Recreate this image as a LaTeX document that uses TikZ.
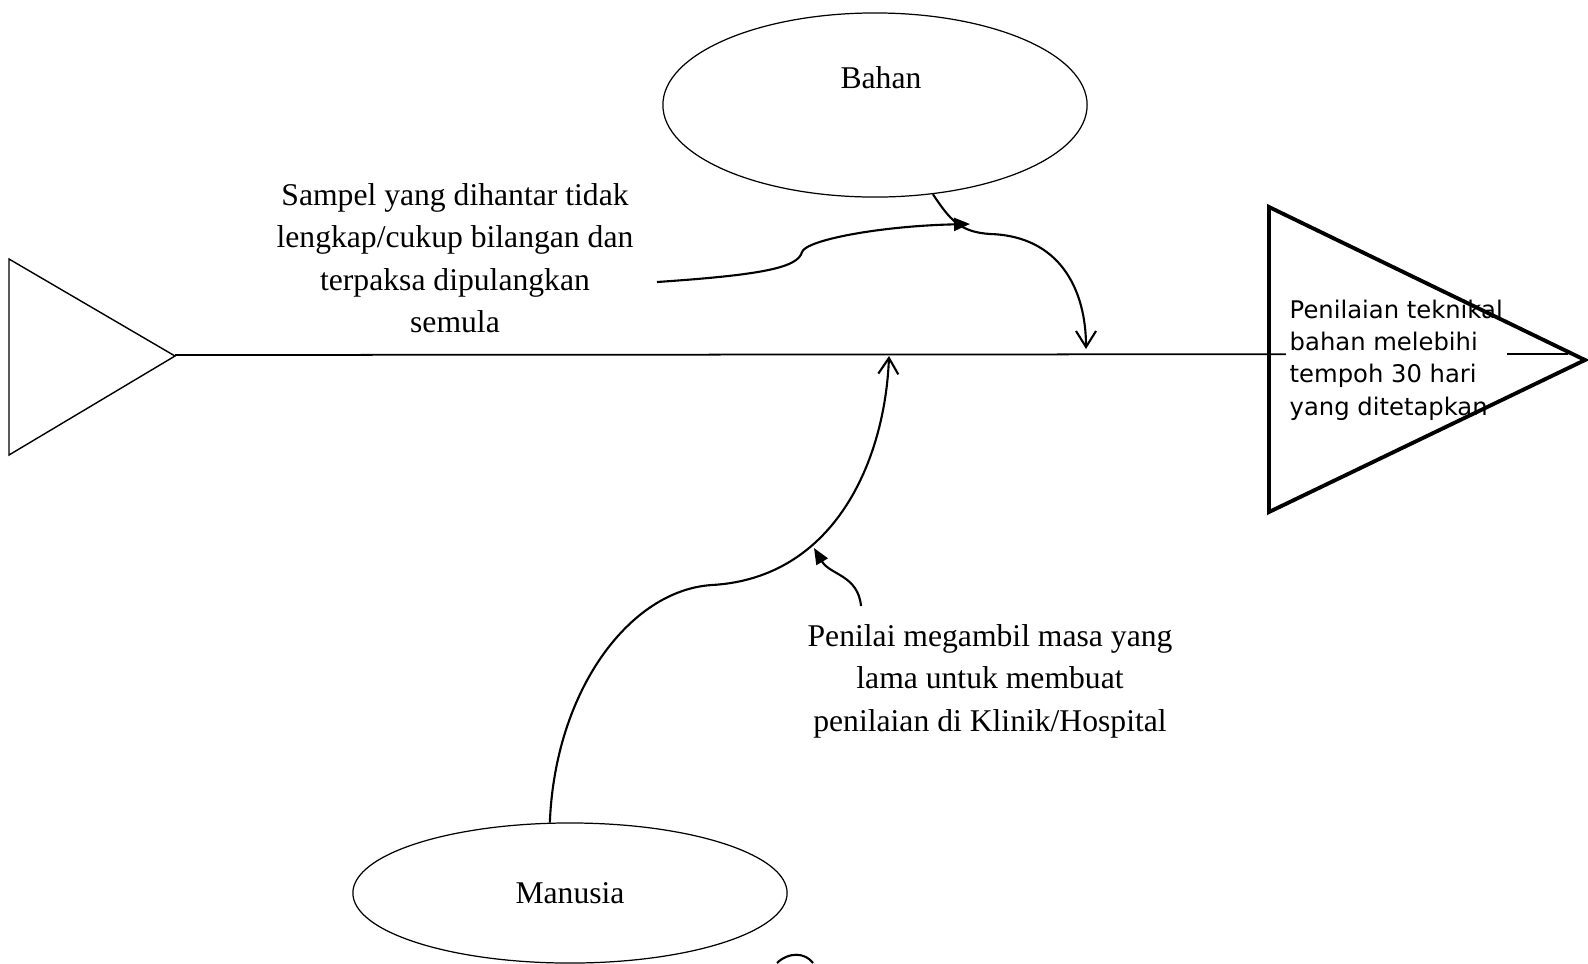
\documentclass[tikz,border=0pt]{standalone}
\usepackage{fontspec}
\setmainfont{Liberation Serif}
\newfontfamily\boxfont{DejaVu Sans}
\usetikzlibrary{shapes.geometric,arrows.meta}

\begin{document}
\begin{tikzpicture}[x=0.01cm, y=-0.01cm,
        oval/.style={draw, ellipse, line width=0.35pt, inner sep=0pt},
        cause/.style={font=\fontsize{9pt}{12.1pt}\selectfont, align=center},
        twist/.style={line width=0.6pt},
        openhead/.style={-{Straight Barb[length=0.16cm, width=0.2cm]}},
        filledhead/.style={-{Triangle[length=0.16cm, width=0.13cm]}}]
        \useasboundingbox (0,0) rectangle (1588,963);
        % tail and spine
        \draw[line width=0.4pt] (9,259)--(9,455)--(175,356)--cycle;
        \coordinate (tail) at (175,355);
        \coordinate (tip) at (1568,354);
        \draw[line width=0.5pt] (tail)--(tip);
        % effect at the head
        \node[fill=white, align=left, inner sep=0.04cm, anchor=west,
            font=\boxfont\fontsize{6.9pt}{9.2pt}\selectfont] (effect) at (1285,360)
            {Penilaian teknikal\\bahan melebihi\\tempoh 30 hari\\yang ditetapkan};
        \draw[line width=1.1pt] (1269,207)--(1269,512)--(1585,360)--cycle;
        % categories
        \node[oval, minimum width=4.24cm, minimum height=1.84cm] (bahan) at (875,105) {};
        \node[cause] (bahantext) at (881,78) {Bahan};
        \node[oval, cause, minimum width=4.34cm, minimum height=1.40cm] (manusia) at (570,893) {Manusia};
        % causes
        \node[cause] (sampel) at (455,258) {Sampel yang dihantar tidak\\lengkap/cukup bilangan dan\\terpaksa dipulangkan\\semula};
        \node[cause] (penilai) at (990,681) {Penilai megambil masa yang\\lama untuk membuat\\penilaian di Klinik/Hospital};
        \coordinate (bahanhit) at (1086,349);
        \coordinate (manusiahit) at (889,356);
        \coordinate (sampelend) at (657,282);
        \coordinate (meet) at (970,224);
        \coordinate (penilaitop) at (861,606);
        \coordinate (hook) at (814,548);
        \draw[twist, openhead] (bahan.-57) .. controls (950,220) and (960,232) .. (990,234)
            .. controls (1060,236) and (1086,290) .. (bahanhit);
        \draw[twist, filledhead] (sampelend) .. controls (760,275) and (798,268) .. (802,252)
            .. controls (806,240) and (880,226) .. (meet);
        \draw[twist, openhead] (manusia.106) .. controls (555,690) and (630,590) .. (712,585)
            .. controls (835,578) and (885,460) .. (manusiahit);
        \draw[twist, filledhead] (penilaitop) .. controls (858,575) and (830,575) .. (hook);
        \draw[twist] (777,963) .. controls (788,952) and (805,952) .. (813,963);
\end{tikzpicture}
\end{document}
